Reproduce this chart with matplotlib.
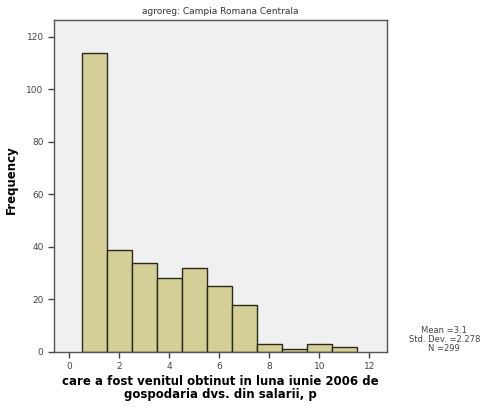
import matplotlib.pyplot as plt

# histogram of income, bins of width 1 centred on integers
bin_centers = [1, 2, 3, 4, 5, 6, 7, 8, 9, 10, 11]
counts = [114, 39, 34, 28, 32, 25, 18, 3, 1, 3, 2]
x_ticks = [0, 2, 4, 6, 8, 10, 12]
y_ticks = [0, 20, 40, 60, 80, 100, 120]

fig = plt.figure(figsize=(4.91, 4.13), dpi=100)
ax = fig.add_axes([0.110, 0.148, 0.678, 0.804])
ax.set_facecolor('#f0f0f0')

ax.bar(bin_centers, counts, width=1.0, color='#d4cf96', edgecolor='#2a2a1a', linewidth=1.0)

ax.set_xlim(-0.6, 12.7)
ax.set_ylim(0, 126.5)
ax.set_xticks(x_ticks)
ax.set_yticks(y_ticks)
ax.tick_params(labelsize=6.5, colors='#444444', length=4, width=1)
for s in ax.spines.values():
    s.set_color('#555555')
    s.set_linewidth(1.0)

ax.set_ylabel('Frequency', fontsize=8.5, fontweight='bold')
ax.yaxis.set_label_coords(-0.11, 0.52)
ax.set_xlabel('care a fost venitul obtinut in luna iunie 2006 de\ngospodaria dvs. din salarii, p',
              fontsize=8.5, fontweight='bold', labelpad=3, linespacing=1.0)
ax.set_title('agroreg: Campia Romana Centrala', fontsize=6.5, color='#333333', pad=4)

fig.text(0.905, 0.177, 'Mean =3.1\nStd. Dev. =2.278\nN =299', fontsize=6,
         color='#444444', ha='center', va='center', linespacing=1.0)

fig.savefig('out.png', dpi=100)
